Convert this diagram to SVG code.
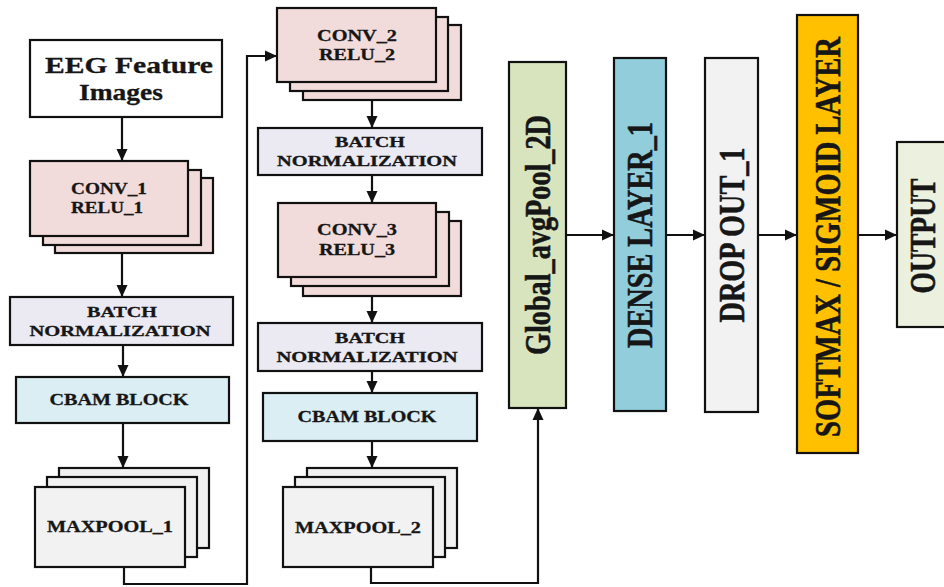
<svg xmlns="http://www.w3.org/2000/svg" width="944" height="587" viewBox="0 0 944 587">
<defs>
<marker id="ah" markerUnits="userSpaceOnUse" markerWidth="12" markerHeight="12" viewBox="0 0 12 12" refX="11" refY="6" orient="auto">
<path d="M0,0.5 L12,6 L0,11.5 z" fill="#111"/>
</marker>
<style>
rect{stroke:#111;stroke-width:2.2}
.pink{fill:#F2DCDB}
.bn{fill:#EBE9F2}
.cbam{fill:#DAEEF3}
.grey{fill:#F2F2F2}
.white{fill:#FFFFFF}
.glob{fill:#D7E4BD}
.dense{fill:#92CDDC}
.soft{fill:#FFC000}
.out{fill:#EBF1DE}
text{font-family:"Liberation Serif","Times New Roman",serif;font-weight:bold;fill:#161616;stroke:#161616;stroke-width:0.3;text-anchor:middle}
.s16{font-size:16px}
.s15{font-size:15px}
.big{font-size:24px}
.v{font-size:36px;stroke-width:0.6}
.conn path{fill:none;stroke:#111;stroke-width:2.2;marker-end:url(#ah)}
</style>
</defs>

<g id="eeg">
<rect class="white" x="30" y="40" width="192" height="77"/>
<text class="big" x="129" y="73" textLength="168" lengthAdjust="spacingAndGlyphs">EEG Feature</text>
<text class="big" x="121" y="100" textLength="84" lengthAdjust="spacingAndGlyphs">Images</text>
</g>

<g id="conv1">
<rect class="pink" x="55" y="178" width="158" height="75"/>
<rect class="pink" x="43" y="170" width="158" height="75"/>
<rect class="pink" x="30" y="161" width="158" height="75"/>
<text class="s16" x="109" y="194" textLength="76" lengthAdjust="spacingAndGlyphs">CONV_1</text>
<text class="s16" x="107" y="213" textLength="72" lengthAdjust="spacingAndGlyphs">RELU_1</text>
</g>

<g id="bn1">
<rect class="bn" x="10" y="297" width="223" height="48"/>
<text class="s15" x="122" y="317" textLength="70" lengthAdjust="spacingAndGlyphs">BATCH</text>
<text class="s15" x="120" y="336" textLength="181" lengthAdjust="spacingAndGlyphs">NORMALIZATION</text>
</g>

<g id="cbam1">
<rect class="cbam" x="16" y="377" width="213" height="46"/>
<text class="s16" x="119" y="405" textLength="139" lengthAdjust="spacingAndGlyphs">CBAM BLOCK</text>
</g>

<g id="maxpool1">
<rect class="grey" x="59" y="468" width="150" height="80"/>
<rect class="grey" x="47" y="477" width="150" height="80"/>
<rect class="grey" x="35" y="487" width="150" height="80"/>
<text class="s16" x="110" y="532" textLength="126" lengthAdjust="spacingAndGlyphs">MAXPOOL_1</text>
</g>

<g id="conv2">
<rect class="pink" x="303" y="25" width="158" height="75"/>
<rect class="pink" x="290" y="17" width="158" height="74"/>
<rect class="pink" x="277" y="8" width="159" height="74"/>
<text class="s16" x="357" y="41" textLength="80" lengthAdjust="spacingAndGlyphs">CONV_2</text>
<text class="s16" x="357" y="60" textLength="76" lengthAdjust="spacingAndGlyphs">RELU_2</text>
</g>

<g id="bn2">
<rect class="bn" x="258" y="128" width="224" height="47"/>
<text class="s15" x="370" y="147" textLength="70" lengthAdjust="spacingAndGlyphs">BATCH</text>
<text class="s15" x="367" y="166" textLength="180" lengthAdjust="spacingAndGlyphs">NORMALIZATION</text>
</g>

<g id="conv3">
<rect class="pink" x="303" y="221" width="158" height="75"/>
<rect class="pink" x="291" y="212" width="158" height="74"/>
<rect class="pink" x="278" y="203" width="158" height="74"/>
<text class="s16" x="357" y="235" textLength="80" lengthAdjust="spacingAndGlyphs">CONV_3</text>
<text class="s16" x="357" y="255" textLength="76" lengthAdjust="spacingAndGlyphs">RELU_3</text>
</g>

<g id="bn3">
<rect class="bn" x="258" y="323" width="224" height="48"/>
<text class="s15" x="370" y="343" textLength="70" lengthAdjust="spacingAndGlyphs">BATCH</text>
<text class="s15" x="367" y="362" textLength="181" lengthAdjust="spacingAndGlyphs">NORMALIZATION</text>
</g>

<g id="cbam2">
<rect class="cbam" x="263" y="393" width="214" height="48"/>
<text class="s16" x="367" y="422" textLength="139" lengthAdjust="spacingAndGlyphs">CBAM BLOCK</text>
</g>

<g id="maxpool2">
<rect class="grey" x="307" y="468" width="150" height="80"/>
<rect class="grey" x="295" y="477" width="150" height="80"/>
<rect class="grey" x="283" y="487" width="150" height="80"/>
<text class="s16" x="358" y="533" textLength="126" lengthAdjust="spacingAndGlyphs">MAXPOOL_2</text>
</g>

<g id="globalpool">
<rect class="glob" x="509" y="62" width="57" height="346"/>
<text class="v" transform="translate(550,235) rotate(-90)" x="0" y="0" textLength="240" lengthAdjust="spacingAndGlyphs">Global_avgPool_2D</text>
</g>

<g id="dense">
<rect class="dense" x="614" y="58" width="52" height="353"/>
<text class="v" transform="translate(652,235) rotate(-90)" x="0" y="0" textLength="226" lengthAdjust="spacingAndGlyphs">DENSE LAYER_1</text>
</g>

<g id="dropout">
<rect class="grey" x="705" y="58" width="53" height="354"/>
<text class="v" transform="translate(744,235) rotate(-90)" x="0" y="0" textLength="175" lengthAdjust="spacingAndGlyphs">DROP OUT_1</text>
</g>

<g id="softmax">
<rect class="soft" x="797" y="15" width="61" height="438"/>
<text class="v" transform="translate(840,237) rotate(-90)" x="0" y="0" textLength="400" lengthAdjust="spacingAndGlyphs">SOFTMAX / SIGMOID LAYER</text>
</g>

<g id="output">
<rect class="out" x="897" y="142" width="60" height="185"/>
<text class="v" transform="translate(935,236) rotate(-90)" x="0" y="0" textLength="115" lengthAdjust="spacingAndGlyphs">OUTPUT</text>
</g>

<g class="conn" id="connectors">
<path d="M122,117 V160"/>
<path d="M122,253 V296"/>
<path d="M123,345 V376"/>
<path d="M123,423 V467"/>
<path d="M124,567 V584 H247 V56 H276"/>
<path d="M372,100 V127"/>
<path d="M372,175 V202"/>
<path d="M372,296 V322"/>
<path d="M372,371 V392"/>
<path d="M372,441 V467"/>
<path d="M371,567 V583 H538 V409"/>
<path d="M566,235 H613"/>
<path d="M666,235 H704"/>
<path d="M758,235 H796"/>
<path d="M858,235 H896"/>
</g>
</svg>
